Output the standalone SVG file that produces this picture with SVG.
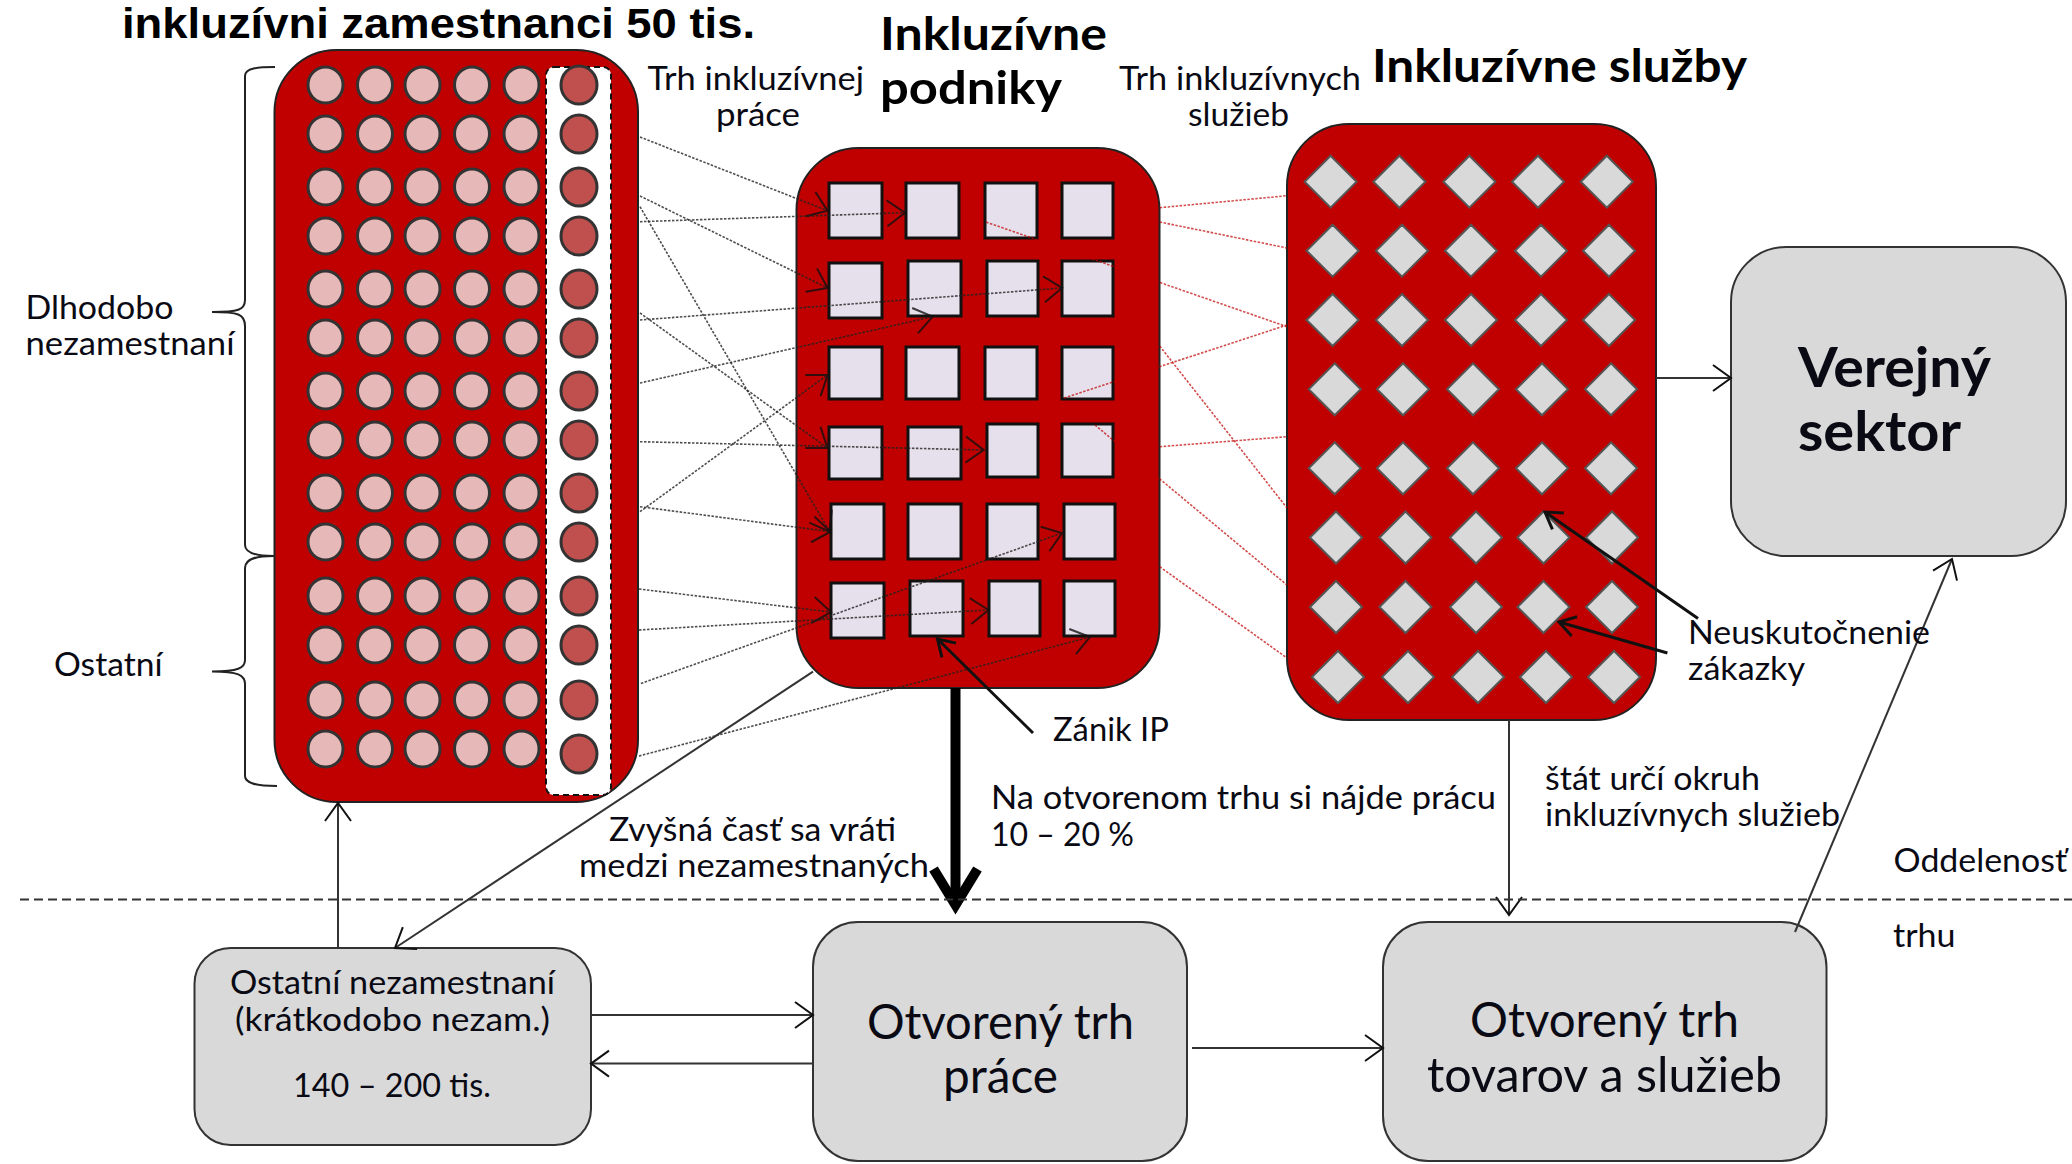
<svg xmlns="http://www.w3.org/2000/svg" width="2072" height="1164" viewBox="0 0 2072 1164">
<style>
text{font-family:"Lato","Open Sans","Liberation Sans",sans-serif;fill:#0a0a14;font-size:33px}
.h{font-weight:700;font-size:46px;fill:#000}
.ti{font-family:"Liberation Sans",sans-serif;font-size:42px}
.b{font-size:48px}
.v{font-size:56px;font-weight:700}
.panel{fill:#c00000;stroke:#222;stroke-width:2}
.box{fill:#d9d9d9;stroke:#333;stroke-width:2}
.c{fill:#e6b9b8;stroke:#333;stroke-width:3}
.d{fill:#c0504d;stroke:#333;stroke-width:3}
.s{fill:#e6e0ec;stroke:#111;stroke-width:3}
.m{fill:#d9d9d9;stroke:#555;stroke-width:2}
.k{fill:none;stroke:#222;stroke-width:1.6;stroke-dasharray:2.5 1.5;opacity:.8}
.r{fill:none;stroke:#c00000;stroke-width:1.6;stroke-dasharray:2.5 1.5;opacity:.7}
.l{fill:none;stroke:#333;stroke-width:2}
.t{fill:none;stroke:#111;stroke-width:3}
.br{fill:none;stroke:#222;stroke-width:2}
</style>
<defs>
<marker id="a" markerUnits="userSpaceOnUse" markerWidth="30" markerHeight="34" refX="24" refY="17" orient="auto"><path d="M6 4L24 17L6 30" fill="none" stroke="#111" stroke-width="2"/></marker>
<marker id="n" markerUnits="userSpaceOnUse" markerWidth="30" markerHeight="30" refX="24" refY="15" orient="auto"><path d="M8 5L24 15L8 25" fill="none" stroke="#111" stroke-width="3"/></marker>
<marker id="th" markerUnits="userSpaceOnUse" markerWidth="60" markerHeight="60" refX="41" refY="30" orient="auto"><path d="M10 8L46 30L10 52" fill="none" stroke="#000" stroke-width="10"/></marker>
</defs>

<g id="node-zamestnanci">
<rect class="panel" x="274.500" y="50" width="363.500" height="752" rx="62" ry="62"/>
<rect x="546" y="67" width="65" height="728" rx="8" fill="#fff" stroke="#111" stroke-width="2" stroke-dasharray="6 4"/>
<g id="circles">
<ellipse class="c" cx="325.500" cy="85" rx="17.500" ry="18"/><ellipse class="c" cx="375" cy="85" rx="17.500" ry="18"/><ellipse class="c" cx="422.500" cy="85" rx="17.500" ry="18"/><ellipse class="c" cx="472" cy="85" rx="17.500" ry="18"/><ellipse class="c" cx="521.500" cy="85" rx="17.500" ry="18"/><ellipse class="d" cx="579" cy="85" rx="18" ry="19"/>
<ellipse class="c" cx="325.500" cy="134" rx="17.500" ry="18"/><ellipse class="c" cx="375" cy="134" rx="17.500" ry="18"/><ellipse class="c" cx="422.500" cy="134" rx="17.500" ry="18"/><ellipse class="c" cx="472" cy="134" rx="17.500" ry="18"/><ellipse class="c" cx="521.500" cy="134" rx="17.500" ry="18"/><ellipse class="d" cx="579" cy="134" rx="18" ry="19"/>
<ellipse class="c" cx="325.500" cy="187" rx="17.500" ry="18"/><ellipse class="c" cx="375" cy="187" rx="17.500" ry="18"/><ellipse class="c" cx="422.500" cy="187" rx="17.500" ry="18"/><ellipse class="c" cx="472" cy="187" rx="17.500" ry="18"/><ellipse class="c" cx="521.500" cy="187" rx="17.500" ry="18"/><ellipse class="d" cx="579" cy="187" rx="18" ry="19"/>
<ellipse class="c" cx="325.500" cy="236" rx="17.500" ry="18"/><ellipse class="c" cx="375" cy="236" rx="17.500" ry="18"/><ellipse class="c" cx="422.500" cy="236" rx="17.500" ry="18"/><ellipse class="c" cx="472" cy="236" rx="17.500" ry="18"/><ellipse class="c" cx="521.500" cy="236" rx="17.500" ry="18"/><ellipse class="d" cx="579" cy="236" rx="18" ry="19"/>
<ellipse class="c" cx="325.500" cy="289" rx="17.500" ry="18"/><ellipse class="c" cx="375" cy="289" rx="17.500" ry="18"/><ellipse class="c" cx="422.500" cy="289" rx="17.500" ry="18"/><ellipse class="c" cx="472" cy="289" rx="17.500" ry="18"/><ellipse class="c" cx="521.500" cy="289" rx="17.500" ry="18"/><ellipse class="d" cx="579" cy="289" rx="18" ry="19"/>
<ellipse class="c" cx="325.500" cy="338" rx="17.500" ry="18"/><ellipse class="c" cx="375" cy="338" rx="17.500" ry="18"/><ellipse class="c" cx="422.500" cy="338" rx="17.500" ry="18"/><ellipse class="c" cx="472" cy="338" rx="17.500" ry="18"/><ellipse class="c" cx="521.500" cy="338" rx="17.500" ry="18"/><ellipse class="d" cx="579" cy="338" rx="18" ry="19"/>
<ellipse class="c" cx="325.500" cy="391" rx="17.500" ry="18"/><ellipse class="c" cx="375" cy="391" rx="17.500" ry="18"/><ellipse class="c" cx="422.500" cy="391" rx="17.500" ry="18"/><ellipse class="c" cx="472" cy="391" rx="17.500" ry="18"/><ellipse class="c" cx="521.500" cy="391" rx="17.500" ry="18"/><ellipse class="d" cx="579" cy="391" rx="18" ry="19"/>
<ellipse class="c" cx="325.500" cy="440" rx="17.500" ry="18"/><ellipse class="c" cx="375" cy="440" rx="17.500" ry="18"/><ellipse class="c" cx="422.500" cy="440" rx="17.500" ry="18"/><ellipse class="c" cx="472" cy="440" rx="17.500" ry="18"/><ellipse class="c" cx="521.500" cy="440" rx="17.500" ry="18"/><ellipse class="d" cx="579" cy="440" rx="18" ry="19"/>
<ellipse class="c" cx="325.500" cy="493" rx="17.500" ry="18"/><ellipse class="c" cx="375" cy="493" rx="17.500" ry="18"/><ellipse class="c" cx="422.500" cy="493" rx="17.500" ry="18"/><ellipse class="c" cx="472" cy="493" rx="17.500" ry="18"/><ellipse class="c" cx="521.500" cy="493" rx="17.500" ry="18"/><ellipse class="d" cx="579" cy="493" rx="18" ry="19"/>
<ellipse class="c" cx="325.500" cy="542" rx="17.500" ry="18"/><ellipse class="c" cx="375" cy="542" rx="17.500" ry="18"/><ellipse class="c" cx="422.500" cy="542" rx="17.500" ry="18"/><ellipse class="c" cx="472" cy="542" rx="17.500" ry="18"/><ellipse class="c" cx="521.500" cy="542" rx="17.500" ry="18"/><ellipse class="d" cx="579" cy="542" rx="18" ry="19"/>
<ellipse class="c" cx="325.500" cy="596" rx="17.500" ry="18"/><ellipse class="c" cx="375" cy="596" rx="17.500" ry="18"/><ellipse class="c" cx="422.500" cy="596" rx="17.500" ry="18"/><ellipse class="c" cx="472" cy="596" rx="17.500" ry="18"/><ellipse class="c" cx="521.500" cy="596" rx="17.500" ry="18"/><ellipse class="d" cx="579" cy="596" rx="18" ry="19"/>
<ellipse class="c" cx="325.500" cy="645" rx="17.500" ry="18"/><ellipse class="c" cx="375" cy="645" rx="17.500" ry="18"/><ellipse class="c" cx="422.500" cy="645" rx="17.500" ry="18"/><ellipse class="c" cx="472" cy="645" rx="17.500" ry="18"/><ellipse class="c" cx="521.500" cy="645" rx="17.500" ry="18"/><ellipse class="d" cx="579" cy="645" rx="18" ry="19"/>
<ellipse class="c" cx="325.500" cy="700" rx="17.500" ry="18"/><ellipse class="c" cx="375" cy="700" rx="17.500" ry="18"/><ellipse class="c" cx="422.500" cy="700" rx="17.500" ry="18"/><ellipse class="c" cx="472" cy="700" rx="17.500" ry="18"/><ellipse class="c" cx="521.500" cy="700" rx="17.500" ry="18"/><ellipse class="d" cx="579" cy="700" rx="18" ry="19"/>
<ellipse class="c" cx="325.500" cy="749" rx="17.500" ry="18"/><ellipse class="c" cx="375" cy="749" rx="17.500" ry="18"/><ellipse class="c" cx="422.500" cy="749" rx="17.500" ry="18"/><ellipse class="c" cx="472" cy="749" rx="17.500" ry="18"/><ellipse class="c" cx="521.500" cy="749" rx="17.500" ry="18"/><ellipse class="d" cx="579" cy="754" rx="18" ry="19"/>
</g>
<text class="h ti" x="122" y="38" textLength="633" lengthAdjust="spacingAndGlyphs">inkluzívni zamestnanci 50 tis.</text>
</g>

<g id="node-podniky">
<rect class="panel" x="796.500" y="148" width="363" height="540" rx="62" ry="62"/>
<rect class="s" x="829" y="183" width="53" height="55"/><rect class="s" x="906" y="183" width="53" height="55"/><rect class="s" x="985" y="183" width="52" height="55"/><rect class="s" x="1062" y="183" width="51" height="55"/>
<rect class="s" x="829" y="263" width="53" height="55"/><rect class="s" x="908" y="261" width="53" height="55"/><rect class="s" x="987" y="261" width="51" height="55"/><rect class="s" x="1062" y="261" width="51" height="55"/>
<rect class="s" x="829" y="347" width="53" height="52"/><rect class="s" x="906" y="347" width="53" height="52"/><rect class="s" x="985" y="347" width="52" height="52"/><rect class="s" x="1062" y="347" width="51" height="52"/>
<rect class="s" x="829" y="427" width="53" height="52"/><rect class="s" x="908" y="427" width="53" height="52"/><rect class="s" x="987" y="424" width="51" height="53"/><rect class="s" x="1062" y="424" width="51" height="53"/>
<rect class="s" x="831" y="504" width="53" height="55"/><rect class="s" x="908" y="504" width="53" height="55"/><rect class="s" x="987" y="504" width="51" height="55"/><rect class="s" x="1064" y="504" width="51" height="55"/>
<rect class="s" x="831" y="583" width="53" height="55"/><rect class="s" x="910" y="581" width="53" height="55"/><rect class="s" x="989" y="581" width="51" height="55"/><rect class="s" x="1064" y="581" width="51" height="55"/>
<text class="h" x="880" y="50" textLength="227" lengthAdjust="spacingAndGlyphs">Inkluzívne</text>
<text class="h" x="880" y="104" textLength="182" lengthAdjust="spacingAndGlyphs">podniky</text>
</g>

<g id="node-sluzby">
<rect class="panel" x="1287" y="124" width="369" height="596" rx="62" ry="62"/>
<path class="m" d="M1330.600 155.700l26 26l-26 26l-26-26zM1399.400 155.700l26 26l-26 26l-26-26zM1469.400 155.700l26 26l-26 26l-26-26zM1538 155.700l26 26l-26 26l-26-26zM1606.800 155.700l26 26l-26 26l-26-26z"/>
<path class="m" d="M1332.600 224.700l26 26l-26 26l-26-26zM1402 224.700l26 26l-26 26l-26-26zM1471 224.700l26 26l-26 26l-26-26zM1541 224.700l26 26l-26 26l-26-26zM1609 224.700l26 26l-26 26l-26-26z"/>
<path class="m" d="M1332.600 294l26 26l-26 26l-26-26zM1402 294l26 26l-26 26l-26-26zM1471 294l26 26l-26 26l-26-26zM1541 294l26 26l-26 26l-26-26zM1609 294l26 26l-26 26l-26-26z"/>
<path class="m" d="M1334.700 363.300l26 26l-26 26l-26-26zM1403 363.300l26 26l-26 26l-26-26zM1473 363.300l26 26l-26 26l-26-26zM1542 363.300l26 26l-26 26l-26-26zM1611 363.300l26 26l-26 26l-26-26z"/>
<path class="m" d="M1334.700 442.300l26 26l-26 26l-26-26zM1403 442.300l26 26l-26 26l-26-26zM1473 442.300l26 26l-26 26l-26-26zM1542 442.300l26 26l-26 26l-26-26zM1611 442.300l26 26l-26 26l-26-26z"/>
<path class="m" d="M1336 511.500l26 26l-26 26l-26-26zM1405.500 511.500l26 26l-26 26l-26-26zM1476 511.500l26 26l-26 26l-26-26zM1543.500 511.500l26 26l-26 26l-26-26zM1612 511.500l26 26l-26 26l-26-26z"/>
<path class="m" d="M1336 581l26 26l-26 26l-26-26zM1405.500 581l26 26l-26 26l-26-26zM1476 581l26 26l-26 26l-26-26zM1543.500 581l26 26l-26 26l-26-26zM1612 581l26 26l-26 26l-26-26z"/>
<path class="m" d="M1338 651l26 26l-26 26l-26-26zM1408 651l26 26l-26 26l-26-26zM1478 651l26 26l-26 26l-26-26zM1546 651l26 26l-26 26l-26-26zM1614 651l26 26l-26 26l-26-26z"/>
<text class="h" x="1372" y="82" textLength="375" lengthAdjust="spacingAndGlyphs">Inkluzívne služby</text>
</g>

<g id="node-verejny">
<rect class="box" x="1731" y="247" width="335" height="309" rx="55" ry="55"/>
<text class="v" x="1798" y="387" textLength="193" lengthAdjust="spacingAndGlyphs">Verejný</text>
<text class="v" x="1798" y="451" textLength="163" lengthAdjust="spacingAndGlyphs">sektor</text>
</g>

<g id="node-ostatni-nezamestnani">
<rect class="box" x="194.500" y="948" width="396.500" height="197" rx="36" ry="36"/>
<text x="230" y="994" textLength="325" lengthAdjust="spacingAndGlyphs">Ostatní nezamestnaní</text>
<text x="235" y="1031" textLength="315" lengthAdjust="spacingAndGlyphs">(krátkodobo nezam.)</text>
<text x="293" y="1097" textLength="198" lengthAdjust="spacingAndGlyphs">140 – 200 tis.</text>
</g>

<g id="node-trh-prace">
<rect class="box" x="813" y="922" width="374" height="239" rx="45" ry="45"/>
<text class="b" x="867" y="1039" textLength="267" lengthAdjust="spacingAndGlyphs">Otvorený trh</text>
<text class="b" x="943" y="1093" textLength="115" lengthAdjust="spacingAndGlyphs">práce</text>
</g>

<g id="node-trh-tovarov">
<rect class="box" x="1383" y="922" width="443.500" height="239" rx="45" ry="45"/>
<text class="b" x="1470" y="1037" textLength="269" lengthAdjust="spacingAndGlyphs">Otvorený trh</text>
<text class="b" x="1427" y="1092" textLength="355" lengthAdjust="spacingAndGlyphs">tovarov a služieb</text>
</g>

<g id="connectors">
<path class="r" d="M1159.700 207.700L1287 195.700"/>
<path class="r" d="M1159.700 222L1287 248"/>
<path class="r" d="M1287 326.700L985 221.700"/>
<path class="r" d="M1287 325L1064 398"/>
<path class="r" d="M1159.700 346L1287 508"/>
<path class="r" d="M1159.700 446.700L1287 436.700"/>
<path class="r" d="M1095 425L1287 585"/>
<path class="r" d="M1159.700 566.700L1287 658"/>

<path class="k" marker-end="url(#a)" d="M640 137L827.500 210.700"/>
<path class="k" marker-end="url(#a)" d="M640 196L827.500 288"/>
<path class="k" marker-end="url(#a)" d="M640 206.700L829.600 531.700"/>
<path class="k" marker-end="url(#a)" d="M640 221.700L905 212.700"/>
<path class="k" marker-end="url(#a)" d="M640 313L827.500 448"/>
<path class="k" marker-end="url(#a)" d="M640 320L1062 288"/>
<path class="k" marker-end="url(#a)" d="M640 383L932.600 316.700"/>
<path class="k" marker-end="url(#a)" d="M640 441.700L983.700 450"/>
<path class="k" marker-end="url(#a)" d="M640 511.700L827.500 375"/>
<path class="k" marker-end="url(#a)" d="M640 506.700L830.600 531.700"/>
<path class="k" marker-end="url(#a)" d="M639 589L831 612"/>
<path class="k" marker-end="url(#a)" d="M639 630L988.500 610"/>
<path class="k" marker-end="url(#a)" d="M640.900 683.500L1062 533"/>
<path class="k" marker-end="url(#a)" d="M639 756L1090 637"/>

<path class="l" marker-end="url(#a)" d="M338 948V803"/>
<path class="l" marker-end="url(#a)" d="M813 671.600L395 948"/>
<path class="l" marker-end="url(#a)" d="M591 1015H813"/>
<path class="l" marker-end="url(#a)" d="M813 1063.600H591"/>
<path class="l" marker-end="url(#a)" d="M1192 1048H1383"/>
<path class="l" marker-end="url(#a)" d="M1509 720V915"/>
<path class="l" marker-end="url(#a)" d="M1656 378H1731"/>
<path class="l" marker-end="url(#a)" d="M1795 932L1952 559"/>
<path class="t" marker-end="url(#n)" d="M1698 618.600L1545 512"/>
<path class="t" marker-end="url(#n)" d="M1667.400 653L1559 622"/>
<path class="t" marker-end="url(#n)" d="M1033 733L937.500 639"/>
<path fill="none" stroke="#000" stroke-width="10" marker-end="url(#th)" d="M955.500 688V900"/>
<path fill="none" stroke="#333" stroke-width="2" stroke-dasharray="9 5" d="M20 899.500H2072"/>
<path class="br" d="M275 67C258 67 245 68 245 76V300C245 310 238 312 212 312C238 312 245 314 245 326V545C245 553 258 556 274 556"/>
<path class="br" d="M274 556C258 556 245 558 245 568V660C245 668 238 671.500 212 671.500C238 671.500 245 675 245 684V776C245 784 258 786 277 786"/>
</g>

<g id="labels">
<text x="647.500" y="90" textLength="216.500" lengthAdjust="spacingAndGlyphs">Trh inkluzívnej</text>
<text x="716" y="126" textLength="84" lengthAdjust="spacingAndGlyphs">práce</text>
<text x="1119" y="90" textLength="242" lengthAdjust="spacingAndGlyphs">Trh inkluzívnych</text>
<text x="1188" y="126" textLength="101" lengthAdjust="spacingAndGlyphs">služieb</text>
<text x="25.500" y="319" textLength="148" lengthAdjust="spacingAndGlyphs">Dlhodobo</text>
<text x="25.500" y="355" textLength="209" lengthAdjust="spacingAndGlyphs">nezamestnaní</text>
<text x="54" y="676" textLength="108.500" lengthAdjust="spacingAndGlyphs">Ostatní</text>
<text x="609" y="841" textLength="287" lengthAdjust="spacingAndGlyphs">Zvyšná časť sa vráti</text>
<text x="579" y="877" textLength="350" lengthAdjust="spacingAndGlyphs">medzi nezamestnaných</text>
<text x="1053" y="741" textLength="116" lengthAdjust="spacingAndGlyphs">Zánik IP</text>
<text x="991" y="809" textLength="505" lengthAdjust="spacingAndGlyphs">Na otvorenom trhu si nájde prácu</text>
<text x="991" y="846" textLength="143" lengthAdjust="spacingAndGlyphs">10 – 20 %</text>
<text x="1545" y="790" textLength="215" lengthAdjust="spacingAndGlyphs">štát určí okruh</text>
<text x="1545" y="826" textLength="295" lengthAdjust="spacingAndGlyphs">inkluzívnych služieb</text>
<text x="1688" y="644" textLength="242" lengthAdjust="spacingAndGlyphs">Neuskutočnenie</text>
<text x="1688" y="680" textLength="117" lengthAdjust="spacingAndGlyphs">zákazky</text>
<text x="1893.500" y="872" textLength="173.500" lengthAdjust="spacingAndGlyphs">Oddelenosť</text>
<text x="1893" y="947" textLength="62.500" lengthAdjust="spacingAndGlyphs">trhu</text>
</g>
</svg>
